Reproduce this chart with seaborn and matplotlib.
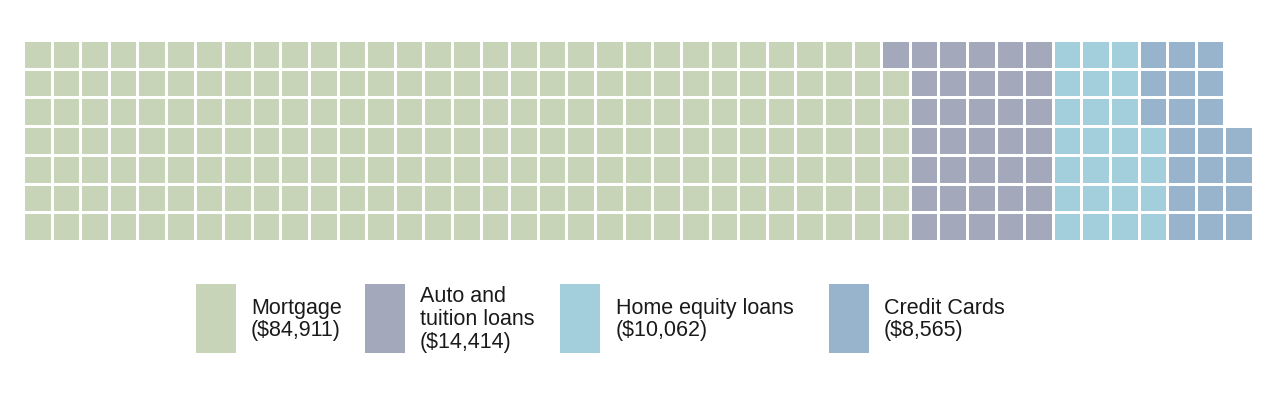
import numpy as np
import pandas as pd
import matplotlib
matplotlib.use("Agg")
import matplotlib.pyplot as plt
from matplotlib.colors import ListedColormap
from matplotlib.patches import Rectangle
import seaborn as sns

# ---- data ----
categories = ["Mortgage", "Auto and\ntuition loans", "Home equity loans", "Credit Cards"]
amounts = ["$84,911", "$14,414", "$10,062", "$8,565"]
cells = [216, 36, 25, 21]          # squares per category
colors = ["#C8D4B8", "#A3A8BB", "#A3CFDC", "#98B4CD"]
n_rows = 7
n_cols = 43

# build waffle matrix (filled column by column, bottom to top)
grid = np.full((n_rows, n_cols), np.nan)
k = 0
for ci, n in enumerate(cells):
    for _ in range(n):
        col = k // n_rows
        row = n_rows - 1 - (k % n_rows)
        grid[row, col] = ci
        k += 1
df = pd.DataFrame(grid)

sns.set_theme(style="white")
plt.rcParams['font.family'] = ['Liberation Sans', 'DejaVu Sans']

W, H = 1287, 393
fig = plt.figure(figsize=(W / 100, H / 100), dpi=100)
fig.patch.set_facecolor("white")

ax = fig.add_axes([23 / W, (H - 241) / H, 1230 / W, 201 / H])
sns.heatmap(df, ax=ax, cmap=ListedColormap(colors), vmin=-0.5, vmax=3.5,
            cbar=False, linewidths=1.0, linecolor="white", square=False,
            xticklabels=False, yticklabels=False)
ax.set_xlabel("")
ax.set_ylabel("")
for s in ax.spines.values():
    s.set_visible(False)

# ---- legend (manual, in pixel coordinates) ----
patch_x = [196, 365, 560, 829]
text_x = [251, 420, 616, 884]
py0, py1 = 284, 353
for i in range(len(categories)):
    r = Rectangle((patch_x[i] / W, 1 - py1 / H), 40 / W, (py1 - py0) / H,
                  transform=fig.transFigure, facecolor=colors[i], edgecolor="none")
    fig.add_artist(r)
    fig.text(text_x[i] / W, 1 - ((py0 + py1) / 2 + 1) / H,
             f"{categories[i]}\n({amounts[i]})", ha="left", va="center",
             fontsize=15.5, color="#1a1a1a", linespacing=1.12)

fig.savefig("out.png", dpi=100, facecolor="white")
